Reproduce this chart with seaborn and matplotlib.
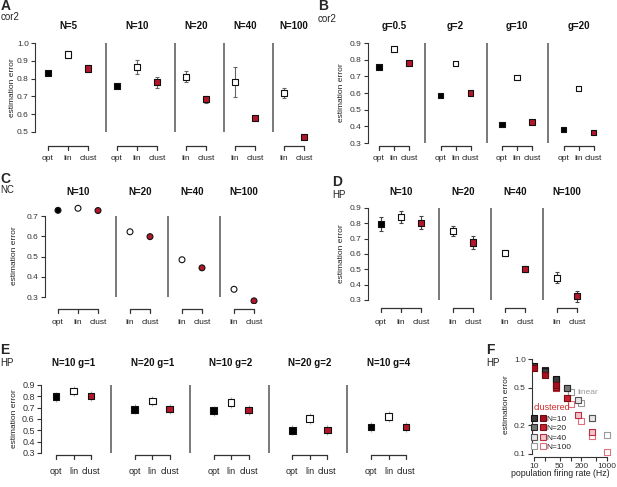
import numpy as np
import pandas as pd
import matplotlib
matplotlib.use("Agg")
import matplotlib.pyplot as plt
import seaborn as sns
from matplotlib.transforms import blended_transform_factory
from matplotlib.legend_handler import HandlerTuple
from matplotlib.lines import Line2D

W, H = 617, 487
RED = "#b3162a"

# ---- data ----
# A: cor2, by population size
a_groups = ["N=5", "N=10", "N=20", "N=40", "N=100"]
a_methods = [["opt", "lin", "clust"], ["opt", "lin", "clust"], ["lin", "clust"], ["lin", "clust"], ["lin", "clust"]]
a_err = [[0.83, 0.935, 0.857], [0.757, 0.865, 0.78], [0.81, 0.685], [0.78, 0.58], [0.72, 0.47]]
a_sd = [[0.01, 0.02, 0.02], [0.01, 0.04, 0.03], [0.03, 0.02], [0.085, 0.01], [0.03, 0.01]]

# B: cor2, by gain
b_groups = ["g=0.5", "g=2", "g=10", "g=20"]
b_methods = [["opt", "lin", "clust"]] * 4
b_err = [[0.756, 0.864, 0.78], [0.584, 0.776, 0.601], [0.41, 0.692, 0.425], [0.382, 0.626, 0.364]]
b_sd = [[0.005, 0.015, 0.01], [0.005, 0.012, 0.005], [0.005, 0.008, 0.005], [0.005, 0.005, 0.005]]

# C: NC
c_groups = ["N=10", "N=20", "N=40", "N=100"]
c_methods = [["opt", "lin", "clust"], ["lin", "clust"], ["lin", "clust"], ["lin", "clust"]]
c_err = [[0.728, 0.738, 0.727], [0.622, 0.598], [0.484, 0.444], [0.338, 0.281]]
c_sd = [[0, 0, 0], [0, 0], [0, 0], [0, 0]]

# D: HP
d_groups = ["N=10", "N=20", "N=40", "N=100"]
d_methods = [["opt", "lin", "clust"], ["lin", "clust"], ["lin", "clust"], ["lin", "clust"]]
d_err = [[0.795, 0.84, 0.804], [0.75, 0.675], [0.606, 0.5], [0.445, 0.325]]
d_sd = [[0.045, 0.04, 0.042], [0.032, 0.04], [0.02, 0.02], [0.035, 0.035]]

# E: HP, N and g
e_groups = ["N=10 g=1", "N=20 g=1", "N=10 g=2", "N=20 g=2", "N=10 g=4"]
e_methods = [["opt", "lin", "clust"]] * 5
e_err = [[0.797, 0.845, 0.803], [0.686, 0.76, 0.688], [0.673, 0.746, 0.68],
         [0.5, 0.604, 0.505], [0.53, 0.622, 0.53]]
e_sd = [[0.045, 0.045, 0.045]] * 5

# F: error vs population firing rate
f_n = [100, 40, 20, 10]
f_rate = {10: [10, 20, 40], 20: [20, 40, 80], 40: [40, 80, 160, 400], 100: [100, 200, 400, 1000]}
f_lin = {10: [0.85, 0.746, 0.62], 20: [0.76, 0.604, 0.5], 40: [0.606, 0.5, 0.37, 0.24],
         100: [0.45, 0.345, 0.24, 0.16]}
f_clust = {10: [0.81, 0.68, 0.53], 20: [0.69, 0.505, 0.39], 40: [0.5, 0.385, 0.255, 0.17],
           100: [0.335, 0.225, 0.155, 0.105]}

# styles for F (face, edge)
f_lin_style = {10: ("#3a3a3a", "#111111"), 20: ("#767676", "#2a2a2a"),
               40: ("#e6e6e6", "#555555"), 100: ("white", "#9a9a9a")}
f_clust_style = {10: ("#a8101f", "#6a0a12"), 20: ("#c8202c", "#7a1018"),
                 40: ("#f3c4c8", "#b83040"), 100: ("white", "#e07080")}

sns.set_theme(style="ticks")
plt.rcParams["font.family"] = ["Liberation Sans", "DejaVu Sans"]

fig = plt.figure(figsize=(W / 100, H / 100), dpi=100)


def fy(px):
    return 1 - px / H


def place_axes(box):
    l, t, r, b = box
    return fig.add_axes([l / W, 1 - b / H, (r - l) / W, (b - t) / H])


def group_panel(groups, methods, values, sds, lay, marker="s", size=16, ecolor="#777777", cap=0.0,
                fs=6):
    ax = place_axes(lay["box"])
    rows, seps, centers, gxs = [], [], [], []
    pos = 0.0
    for gi in range(len(groups)):
        xs = []
        for m, v, s in zip(methods[gi], values[gi], sds[gi]):
            rows.append({"group": groups[gi], "method": m, "pos": pos, "err": v, "sd": s})
            xs.append(pos)
            pos += 1
        gxs.append(xs)
        centers.append((xs[0] + xs[-1]) / 2)
        if gi < len(groups) - 1:
            seps.append(xs[-1] + lay["sep"])
        pos = xs[-1] + 1 + lay["gap"]
    df = pd.DataFrame(rows)

    if df["sd"].max() > 0:
        ax.errorbar(df["pos"], df["err"], yerr=df["sd"], fmt="none", ecolor=ecolor,
                    elinewidth=0.8, capsize=cap, capthick=0.8, zorder=2)
    sns.scatterplot(data=df, x="pos", y="err", hue="method",
                    palette={"opt": "black", "lin": "white", "clust": RED},
                    marker=marker, s=size, edgecolor="#111111", linewidth=0.8,
                    legend=False, ax=ax, zorder=3)

    l, t, r, b = lay["box"]
    slot = lay["slot"]
    ax.set_xlim((l - lay["first"]) / slot, (r - lay["first"]) / slot)
    (v1, p1), (v2, p2) = lay["yref"]
    k = (p2 - p1) / (v1 - v2)
    ax.set_ylim(v2 - (b - p2) / k, v1 + (p1 - t) / k)

    ticks = np.round(np.arange(v2, v1 + 0.001, 0.1), 1)
    ax.set_yticks(ticks)
    ax.set_yticklabels([f"{tk:.1f}" for tk in ticks])
    ax.set_xticks([])
    ax.set_xlabel("")
    ax.set_ylabel("")
    for sp in ["top", "right", "bottom"]:
        ax.spines[sp].set_visible(False)
    ax.spines["left"].set_bounds(v2, v1)
    ax.spines["left"].set_color("#333333")
    ax.spines["left"].set_linewidth(0.8)
    ax.tick_params(axis="y", direction="out", length=3, width=0.8, pad=1.5,
                   labelsize=fs, colors="#333333")
    ax.patch.set_alpha(0)

    ax.vlines(seps, v2, v1, color="#6e6e6e", lw=1.3, zorder=1)

    trans = blended_transform_factory(ax.transData, fig.transFigure)
    br = lay["bracket"]
    for gi, xs in enumerate(gxs):
        ax.plot([xs[0], xs[-1]], [fy(br), fy(br)], transform=trans, clip_on=False,
                color="#333333", lw=0.9)
        for x, m in zip(xs, methods[gi]):
            ax.plot([x, x], [fy(br), fy(br + 4)], transform=trans, clip_on=False,
                    color="#333333", lw=0.9)
            ax.text(x, fy(lay["labels"]), m, transform=trans, ha="center", va="center",
                    fontsize=fs, color="#222222")
        ax.text(centers[gi], fy(lay["title"]), groups[gi], transform=trans, ha="center",
                va="center", fontsize=7, fontweight="bold", color="#111111")
    fig.text(lay["ylab"][0] / W, fy(lay["ylab"][1]), "estimation error", rotation=90,
             ha="center", va="center", fontsize=6, color="#222222")
    return ax


lay_a = dict(box=(35, 34, 312, 142), first=48, slot=20, gap=0.45, sep=0.88,
             yref=[(1.0, 43), (0.5, 132)], bracket=146, labels=159, title=26, ylab=(12, 88))
lay_b = dict(box=(368, 34, 612, 146), first=379, slot=15, gap=1.1, sep=1.07,
             yref=[(0.9, 43), (0.3, 143)], bracket=146, labels=159, title=26, ylab=(342, 93))
lay_c = dict(box=(45, 200, 300, 304), first=58, slot=20, gap=0.6, sep=0.9,
             yref=[(0.7, 216), (0.3, 297)], bracket=309, labels=322, title=192, ylab=(15, 256))
lay_d = dict(box=(368, 200, 612, 304), first=381, slot=20, gap=0.6, sep=0.9,
             yref=[(0.9, 208), (0.3, 300)], bracket=308, labels=322, title=192, ylab=(342, 254))
lay_e = dict(box=(41, 368, 460, 454), first=56, slot=17.5, gap=1.5, sep=1.15,
             yref=[(0.9, 385), (0.3, 453)], bracket=455, labels=471, title=363, ylab=(15, 419))

group_panel(a_groups, a_methods, a_err, a_sd, lay_a, size=20, ecolor="#666666", cap=1.2)
group_panel(b_groups, b_methods, b_err, b_sd, lay_b, size=16, ecolor="#999999")
group_panel(c_groups, c_methods, c_err, c_sd, lay_c, marker="o", size=18)
group_panel(d_groups, d_methods, d_err, d_sd, lay_d, size=20, ecolor="#444444", cap=1.5)
group_panel(e_groups, e_methods, e_err, e_sd, lay_e, size=22, ecolor="#b0b0b0", fs=6.5)

# ---- panel F ----
axf = place_axes((532, 352, 613, 457))
for n in f_n:
    dfl = pd.DataFrame({"rate": f_rate[n], "err": f_lin[n]})
    dfc = pd.DataFrame({"rate": f_rate[n], "err": f_clust[n]})
    sns.scatterplot(data=dfl, x="rate", y="err", marker="s", s=17, color=f_lin_style[n][0],
                    edgecolor=f_lin_style[n][1], linewidth=0.8, ax=axf, legend=False, zorder=3)
    sns.scatterplot(data=dfc, x="rate", y="err", marker="s", s=17, color=f_clust_style[n][0],
                    edgecolor=f_clust_style[n][1], linewidth=0.8, ax=axf, legend=False, zorder=3)
axf.set_xscale("log")
axf.set_yscale("log")
axf.set_xlim(10 ** (1 + (532 - 534) / 36.5), 10 ** (1 + (613 - 534) / 36.5))
axf.set_ylim(10 ** (-(457 - 359) / 95), 10 ** ((359 - 352) / 95))
axf.set_xticks([10, 20, 50, 100, 200, 500, 1000])
axf.set_xticklabels(["10", "", "50", "", "200", "", "1000"])
axf.set_yticks([0.1, 0.2, 0.5, 1.0])
axf.set_yticklabels(["0.1", "0.2", "0.5", "1.0"])
axf.minorticks_off()
axf.set_xlabel("")
axf.set_ylabel("")
for sp in ["top", "right"]:
    axf.spines[sp].set_visible(False)
axf.spines["left"].set_bounds(0.1, 1.0)
axf.spines["bottom"].set_bounds(10, 1000)
for sp in ["left", "bottom"]:
    axf.spines[sp].set_color("#333333")
    axf.spines[sp].set_linewidth(0.8)
axf.tick_params(direction="out", length=3, width=0.8, pad=1.5, labelsize=6, colors="#333333")
axf.patch.set_alpha(0)

handles = []
for n in [10, 20, 40, 100]:
    hl = Line2D([], [], ls="none", marker="s", ms=3.8, mfc=f_lin_style[n][0],
                mec=f_lin_style[n][1], mew=0.8)
    hc = Line2D([], [], ls="none", marker="s", ms=3.8, mfc=f_clust_style[n][0],
                mec=f_clust_style[n][1], mew=0.8)
    handles.append((hl, hc))
fig.legend(handles, ["N=10", "N=20", "N=40", "N=100"],
           handler_map={tuple: HandlerTuple(ndivide=None, pad=0.6)},
           loc="upper left", bbox_to_anchor=(532 / W, fy(415)), frameon=False,
           fontsize=6, handlelength=1.5, handletextpad=0.2, labelspacing=0.2,
           borderpad=0, borderaxespad=0)
fig.text(577 / W, fy(392), "linear", fontsize=6, color="#9a9a9a", va="center")
fig.text(534 / W, fy(408), "clustered", fontsize=6.5, color="#d0302f", va="center")
fig.text(560 / W, fy(474), "population firing rate (Hz)", fontsize=6.3, ha="center",
         va="center", color="#222222")
fig.text(506 / W, fy(405), "estimation error", rotation=90, ha="center", va="center",
         fontsize=6, color="#222222")

# ---- panel letters ----
for letter, sub, x, yl, ys in [("A", "cor2", 1, 6, 17), ("B", "cor2", 318, 6, 19),
                               ("C", "NC", 0, 179, 190), ("D", "HP", 332, 182, 195),
                               ("E", "HP", 0, 350, 363), ("F", "HP", 486, 350, 363)]:
    fig.text(x / W, fy(yl), letter, fontsize=10, fontweight="bold", va="center", ha="left")
    fig.text(x / W, fy(ys), sub, fontsize=7, va="center", ha="left", color="#222222")

fig.savefig("out.png", dpi=100)
